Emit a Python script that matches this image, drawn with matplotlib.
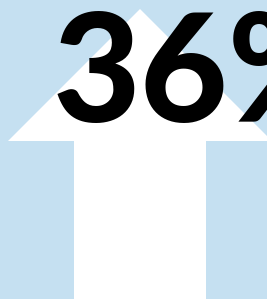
import matplotlib.pyplot as plt
from matplotlib.patches import Polygon

# value shown on the graphic
value = 36
label = f"{value}%"

# canvas in pixels
width_px = 267
height_px = 299

bg_color = "#c5e0f1"
arrow_color = "white"

# arrow shape (pixel units, y grows downward)
tip_x, tip_y = 140, 9
head_half = 132
head_base_y = 141
shaft_half = 66

fig = plt.figure(figsize=(width_px / 100, height_px / 100), dpi=100)
fig.patch.set_facecolor(bg_color)
ax = fig.add_axes([0, 0, 1, 1])
ax.set_xlim(0, width_px)
ax.set_ylim(height_px, 0)
ax.axis("off")

arrow = Polygon(
    [
        (tip_x, tip_y),
        (tip_x + head_half, head_base_y),
        (tip_x + shaft_half, head_base_y),
        (tip_x + shaft_half, height_px + 5),
        (tip_x - shaft_half, height_px + 5),
        (tip_x - shaft_half, head_base_y),
        (tip_x - head_half, head_base_y),
    ],
    closed=True, facecolor=arrow_color, edgecolor="none",
)
ax.add_patch(arrow)

ax.text(53, 122, label, fontsize=109, fontfamily="Lato", fontweight="black",
        color="black", ha="left", va="baseline")

fig.savefig("out.png", dpi=100, facecolor=bg_color)
